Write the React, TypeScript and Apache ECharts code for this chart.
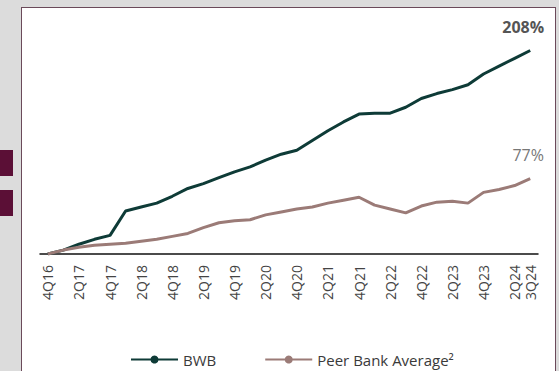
import React, { useEffect, useRef } from "react";
import * as echarts from "echarts";

const categories = [
  "4Q16", "1Q17", "2Q17", "3Q17", "4Q17", "1Q18", "2Q18", "3Q18", "4Q18",
  "1Q19", "2Q19", "3Q19", "4Q19", "1Q20", "2Q20", "3Q20", "4Q20",
  "1Q21", "2Q21", "3Q21", "4Q21", "1Q22", "2Q22", "3Q22", "4Q22",
  "1Q23", "2Q23", "3Q23", "4Q23", "1Q24", "2Q24", "3Q24",
];

const bwbValues = [
  0, 4, 10, 15, 19, 44, 48, 52, 59, 67, 72, 78, 84, 89, 96, 102, 106,
  116, 126, 135, 143, 144, 144, 150, 159, 164, 168, 173, 184, 192, 200, 208,
];

const peerValues = [
  0, 4, 7, 9, 10, 11, 13, 15, 18, 21, 27, 32, 34, 35, 40, 43, 46,
  48, 52, 55, 58, 50, 46, 42, 49, 53, 54, 52, 63, 66, 70, 77,
];

const shownLabels = [
  "4Q16", "2Q17", "4Q17", "2Q18", "4Q18", "2Q19", "4Q19", "2Q20", "4Q20",
  "2Q21", "4Q21", "2Q22", "4Q22", "2Q23", "4Q23", "2Q24", "3Q24",
];

const seriesNames = ["BWB", "Peer Bank Average²"];
const endLabels = ["208%", "77%"];

const FONT = "'Open Sans', Lato, sans-serif";

export default function App() {
  const ref = useRef<HTMLDivElement>(null);

  useEffect(() => {
    if (!ref.current) return;
    const chart = echarts.init(ref.current, null, { renderer: "svg" });
    chart.setOption({
      animation: false,
      backgroundColor: "transparent",
      textStyle: { fontFamily: FONT },
      grid: { left: 40, right: 21, top: 29, bottom: 117, containLabel: false },
      legend: {
        left: 125,
        top: 347,
        itemWidth: 47,
        itemHeight: 10,
        itemGap: 48,
        textStyle: { fontSize: 15, color: "#3a3a3a", fontFamily: FONT },
        data: seriesNames,
      },
      xAxis: {
        type: "category",
        data: categories,
        boundaryGap: true,
        axisLine: { lineStyle: { color: "#111", width: 1.5 } },
        axisTick: { show: false },
        axisLabel: {
          rotate: 90,
          margin: 11,
          fontSize: 14,
          color: "#444",
          fontFamily: FONT,
          interval: (_i: number, v: string) => shownLabels.includes(v),
        },
      },
      yAxis: {
        type: "value",
        min: 0,
        max: 230,
        show: false,
        splitLine: { show: false },
      },
      series: [
        {
          name: seriesNames[0],
          type: "line",
          data: bwbValues,
          symbol: "circle",
          symbolSize: 9,
          showSymbol: false,
          color: "#0e3b37",
          lineStyle: { width: 3, color: "#0e3b37" },
          markPoint: {
            symbol: "circle",
            symbolSize: 1,
            itemStyle: { color: "rgba(0,0,0,0)" },
            label: {
              show: true,
              position: "top",
              distance: 15,
              offset: [-7, 0],
              formatter: endLabels[0],
              fontSize: 16,
              fontWeight: "bold",
              color: "#555",
              fontFamily: FONT,
            },
            data: [{ type: "max" }],
          },
        },
        {
          name: seriesNames[1],
          type: "line",
          data: peerValues,
          symbol: "circle",
          symbolSize: 9,
          showSymbol: false,
          color: "#9b7b77",
          lineStyle: { width: 3, color: "#9b7b77" },
          markPoint: {
            symbol: "circle",
            symbolSize: 1,
            itemStyle: { color: "rgba(0,0,0,0)" },
            label: {
              show: true,
              position: "top",
              distance: 15,
              offset: [-2, 0],
              formatter: endLabels[1],
              fontSize: 16,
              color: "#777",
              fontFamily: FONT,
            },
            data: [{ type: "max" }],
          },
        },
      ],
    });
    return () => chart.dispose();
  }, []);

  return (
    <div
      style={{
        position: "fixed",
        left: 0,
        top: 0,
        width: 559,
        height: 371,
        background: "#dcdcdc",
        overflow: "hidden",
      }}
    >
      <div style={{ position: "absolute", left: 0, top: 150, width: 13, height: 26, background: "#5b0f36" }} />
      <div style={{ position: "absolute", left: 0, top: 190, width: 13, height: 26, background: "#5b0f36" }} />
      <div
        style={{
          position: "absolute",
          left: 21,
          top: 7,
          width: 533,
          height: 380,
          background: "#ffffff",
          border: "1px solid #6b4a5a",
        }}
      />
      <div ref={ref} style={{ position: "absolute", left: 0, top: 0, width: 559, height: 371 }} />
    </div>
  );
}
